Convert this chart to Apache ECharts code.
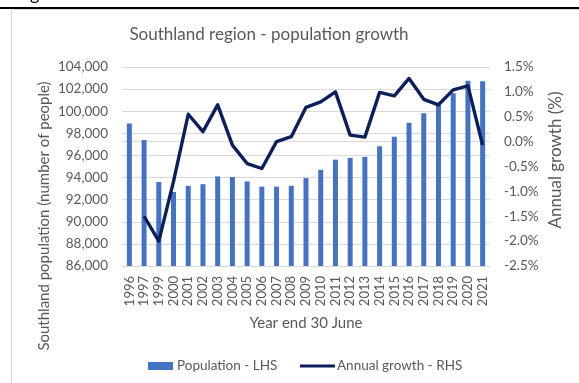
<!DOCTYPE html>
<html>
<head>
<meta charset="utf-8">
<style>
  html, body { margin: 0; padding: 0; background: #ffffff; }
  #chart { width: 579px; height: 383px; }
</style>
<script src="https://cdn.jsdelivr.net/npm/echarts@6/dist/echarts.min.js"></script>
</head>
<body>
<div id="chart"></div>
<script>
// Year end 30 June (1998 is not reported)
const years = ['1996', '1997', '1999', '2000', '2001', '2002', '2003', '2004', '2005', '2006',
  '2007', '2008', '2009', '2010', '2011', '2012', '2013', '2014', '2015', '2016',
  '2017', '2018', '2019', '2020', '2021'];

// Southland population (number of people)
const population = [98900, 97400, 93600, 92700, 93250, 93400, 94100, 94050, 93650, 93180,
  93180, 93250, 93950, 94700, 95620, 95780, 95870, 96830, 97700, 98960,
  99810, 100560, 101620, 102750, 102700];

// Annual growth (%)
const growth = [null, -1.5, -2.0, -0.8, 0.55, 0.2, 0.74, -0.07, -0.44, -0.54,
  0.0, 0.1, 0.69, 0.8, 1.0, 0.13, 0.09, 0.99, 0.92, 1.27,
  0.85, 0.74, 1.04, 1.12, -0.07];

const FONT = 'Lato, "Open Sans", sans-serif';
const GREY = '#595959';

const chart = echarts.init(document.getElementById('chart'), null, { renderer: 'canvas' });

chart.setOption({
  animation: false,
  backgroundColor: '#ffffff',
  textStyle: { fontFamily: FONT },
  grid: { left: 122, right: 89, top: 67, bottom: 117, containLabel: false },
  xAxis: {
    type: 'category',
    data: years,
    axisLine: { show: true, lineStyle: { color: '#d9d9d9', width: 1 } },
    axisTick: { show: false },
    axisLabel: { rotate: 90, color: GREY, fontSize: 13, margin: 10, interval: 0, fontFamily: FONT }
  },
  yAxis: [
    {
      type: 'value',
      min: 86000, max: 104000, interval: 2000,
      axisLine: { show: false },
      axisTick: { show: false },
      splitLine: { lineStyle: { color: '#d9d9d9', width: 1 } },
      axisLabel: {
        color: GREY, fontSize: 13.5, margin: 14, fontFamily: FONT,
        formatter: v => v.toLocaleString('en-US')
      }
    },
    {
      type: 'value',
      min: -2.5, max: 1.5, interval: 0.5,
      axisLine: { show: false },
      axisTick: { show: false },
      splitLine: { show: false },
      axisLabel: {
        color: GREY, fontSize: 13.5, margin: 14, fontFamily: FONT,
        formatter: v => v.toFixed(1) + '%'
      }
    }
  ],
  legend: [
    {
      data: ['Population - LHS'],
      left: 148, top: 359, padding: 0,
      icon: 'rect', itemWidth: 25, itemHeight: 8, itemGap: 4,
      textStyle: { color: GREY, fontSize: 13.5, fontFamily: FONT, padding: [0, 0, 0, -1] }
    },
    {
      data: ['Annual growth - RHS'],
      left: 300, top: 359, padding: 0,
      icon: 'rect', itemWidth: 35, itemHeight: 3,
      textStyle: { color: GREY, fontSize: 13.5, fontFamily: FONT, padding: [0, 0, 0, -3] }
    }
  ],
  series: [
    {
      name: 'Population - LHS',
      type: 'bar',
      data: population,
      yAxisIndex: 0,
      barWidth: 5,
      itemStyle: { color: '#4472c4' }
    },
    {
      name: 'Annual growth - RHS',
      type: 'line',
      data: growth,
      yAxisIndex: 1,
      symbol: 'none',
      connectNulls: false,
      lineStyle: { color: '#0b1f5c', width: 3.4, join: 'round' },
      itemStyle: { color: '#0b1f5c' }
    }
  ],
  graphic: [
    // tail of the text line above the rule
    {
      type: 'text', x: 30, y: 3,
      style: { text: 'g', fill: '#000000', font: '18px ' + FONT, textAlign: 'left', textVerticalAlign: 'bottom' },
      silent: true
    },
    // page rule above the chart box
    { type: 'rect', shape: { x: 0, y: 7, width: 579, height: 2 }, style: { fill: '#000000' }, silent: true },
    // chart box border (top and left edges)
    { type: 'line', shape: { x1: 11, y1: 9.5, x2: 579, y2: 9.5 }, style: { stroke: '#d9d9d9', lineWidth: 1 }, silent: true },
    { type: 'line', shape: { x1: 11.5, y1: 9, x2: 11.5, y2: 383 }, style: { stroke: '#d9d9d9', lineWidth: 1 }, silent: true },
    // title
    {
      type: 'text', x: 269, y: 35,
      style: { text: 'Southland region - population growth', fill: GREY, font: '17px ' + FONT, textAlign: 'center', textVerticalAlign: 'middle' },
      silent: true
    },
    // left axis name
    {
      type: 'text', x: 44, y: 216, rotation: Math.PI / 2,
      style: { text: 'Southland population (number of people)', fill: GREY, font: '15px ' + FONT, textAlign: 'center', textVerticalAlign: 'middle' },
      silent: true
    },
    // right axis name
    {
      type: 'text', x: 556, y: 160, rotation: Math.PI / 2,
      style: { text: 'Annual growth (%)', fill: GREY, font: '17px ' + FONT, textAlign: 'center', textVerticalAlign: 'middle' },
      silent: true
    },
    // category axis name
    {
      type: 'text', x: 306, y: 323,
      style: { text: 'Year end 30 June', fill: GREY, font: '15px ' + FONT, textAlign: 'center', textVerticalAlign: 'middle' },
      silent: true
    }
  ]
});
</script>
</body>
</html>
